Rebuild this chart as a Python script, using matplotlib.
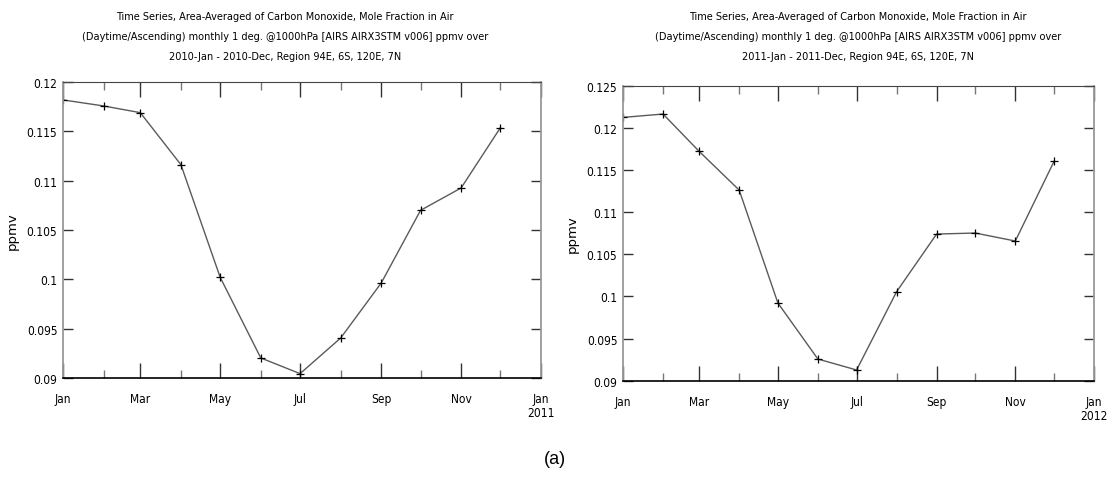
import numpy as np
import matplotlib
matplotlib.use('Agg')
import matplotlib.pyplot as plt
import matplotlib.dates as mdates
from matplotlib import font_manager as fm

# Dados (ppmv, primeiro dia de cada mes)
meses_2010 = np.array(['2010-%02d-01' % m for m in range(1, 13)], dtype='datetime64[D]')
co_2010 = [0.11818, 0.11757, 0.11689, 0.11162, 0.1002, 0.09203,
           0.09044, 0.09405, 0.09963, 0.10699, 0.10926, 0.11537]

meses_2011 = np.array(['2011-%02d-01' % m for m in range(1, 13)], dtype='datetime64[D]')
co_2011 = [0.12124, 0.12164, 0.11721, 0.11262, 0.09922, 0.09257,
           0.09127, 0.10056, 0.1074, 0.10752, 0.10657, 0.11602]

titulo = ("Time Series, Area-Averaged of Carbon Monoxide, Mole Fraction in Air\n"
          "(Daytime/Ascending) monthly 1 deg. @1000hPa [AIRS AIRX3STM v006] ppmv over\n"
          "{0}-Jan - {0}-Dec, Region 94E, 6S, 120E, 7N")

# fonte condensada (DejaVu Sans Condensed), pega direto pelo arquivo
arq = None
for f in fm.fontManager.ttflist:
    if f.fname.endswith('DejaVuSansCondensed.ttf'):
        arq = f.fname
if arq:
    fp = lambda s: fm.FontProperties(fname=arq, size=s)
else:
    fp = lambda s: fm.FontProperties(family='DejaVu Sans', stretch='condensed', size=s)

fig = plt.figure(figsize=(11.1, 4.85), dpi=100)


def painel(ret, x, y, ano, ylim, yticks, xt):
    ax = fig.add_axes(ret)
    ax.plot(x, y, '-', color='#5a5a5a', lw=1.0, marker='+', ms=6,
            mec='black', mew=0.9)
    ax.set_ylim(*ylim)
    ax.set_xlim(np.datetime64('%d-01-01' % ano), np.datetime64('%d-01-01' % (ano + 1)))
    ax.set_yticks(yticks)
    ax.set_yticklabels(['%g' % v for v in yticks], fontproperties=fp(8.6))
    ax.xaxis.set_major_locator(mdates.MonthLocator(bymonth=[1, 3, 5, 7, 9, 11]))
    ax.xaxis.set_minor_locator(mdates.MonthLocator(bymonth=[2, 4, 6, 8, 10, 12]))
    rot = ['Jan', 'Mar', 'May', 'Jul', 'Sep', 'Nov', 'Jan\n%d' % (ano + 1)]
    ax.set_xticks(ax.get_xticks())
    ax.set_xticklabels(rot, fontproperties=fp(8.6), linespacing=1.1)
    ax.tick_params(axis='x', which='major', direction='in', length=10.5, width=1.0,
                   top=True, color='#333333', pad=10)
    ax.tick_params(axis='x', which='minor', direction='in', length=5.5, width=1.0,
                   top=True, color='#777777')
    ax.tick_params(axis='y', which='major', direction='in', length=7.5, width=1.0,
                   right=True, color='#333333', pad=4)
    ax.spines['top'].set_color('#444444')
    ax.spines['bottom'].set_color('black')
    ax.spines['bottom'].set_linewidth(1.2)
    for k in ['left', 'right']:
        ax.spines[k].set_color('#999999')
        ax.spines[k].set_linewidth(1.3)
    ax.set_ylabel('ppmv', fontsize=9.5, labelpad=6)
    fig.text(xt, 0.976, titulo.format(ano), ha='center', va='top',
             fontproperties=fp(7.8), linespacing=2.3)
    return ax


a1 = painel([0.0568, 0.2186, 0.4306, 0.6103], meses_2010, co_2010, 2010,
            (0.09, 0.12), [0.09, 0.095, 0.1, 0.105, 0.11, 0.115, 0.12], 0.257)
a2 = painel([0.5613, 0.2130, 0.4243, 0.6082], meses_2011, co_2011, 2011,
            (0.09, 0.125), [0.09, 0.095, 0.1, 0.105, 0.11, 0.115, 0.12, 0.125], 0.773)

fig.text(0.5, 0.052, '(a)', ha='center', va='center', fontsize=13,
         family='Liberation Sans')

plt.savefig('out.png', dpi=100)
